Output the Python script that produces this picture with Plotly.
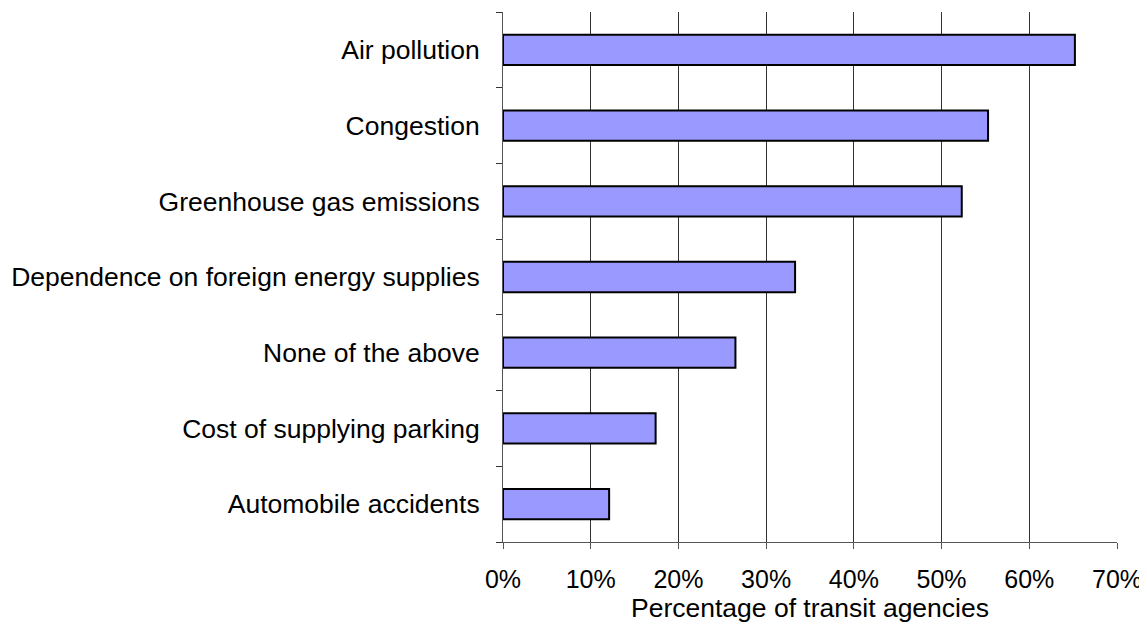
import plotly.graph_objects as go

categories = [
    "Automobile accidents",
    "Cost of supplying parking",
    "None of the above",
    "Dependence on foreign energy supplies",
    "Greenhouse gas emissions",
    "Congestion",
    "Air pollution",
]
shares = [12.1, 17.4, 26.5, 33.3, 52.3, 55.3, 65.2]
x_ticks = [0, 10, 20, 30, 40, 50, 60, 70]
x_tick_labels = [f"{v}%" for v in x_ticks]

font_family = "Liberation Sans, Arial, sans-serif"

fig = go.Figure(
    go.Bar(
        x=shares,
        y=categories,
        orientation="h",
        marker=dict(color="#9999FF", line=dict(color="black", width=2)),
    )
)

# the page body adds an 8px offset, so the figure is shrunk by that much
fig.update_layout(
    width=1139,
    height=618,
    margin=dict(l=495, r=30, t=4, b=84),
    plot_bgcolor="white",
    paper_bgcolor="white",
    bargap=0.6,
    showlegend=False,
    font=dict(family=font_family, size=26, color="black"),
)

fig.update_xaxes(
    range=[0, 70],
    tickvals=x_ticks,
    ticktext=x_tick_labels,
    tickfont=dict(size=25),
    showgrid=True,
    gridcolor="#333333",
    gridwidth=1,
    zeroline=False,
    showline=True,
    linecolor="#555555",
    linewidth=1,
    ticks="outside",
    ticklen=6,
    tickcolor="#555555",
    ticklabelstandoff=9,
    title=dict(text="Percentage of transit agencies", font=dict(size=26.5), standoff=5),
)

fig.update_yaxes(
    showgrid=False,
    showline=True,
    linecolor="#555555",
    linewidth=1,
    ticks="outside",
    ticklen=6,
    tickcolor="#333333",
    tickson="boundaries",
    tickfont=dict(size=26.5),
    ticklabelstandoff=17,
)

fig.write_html("out.html")
